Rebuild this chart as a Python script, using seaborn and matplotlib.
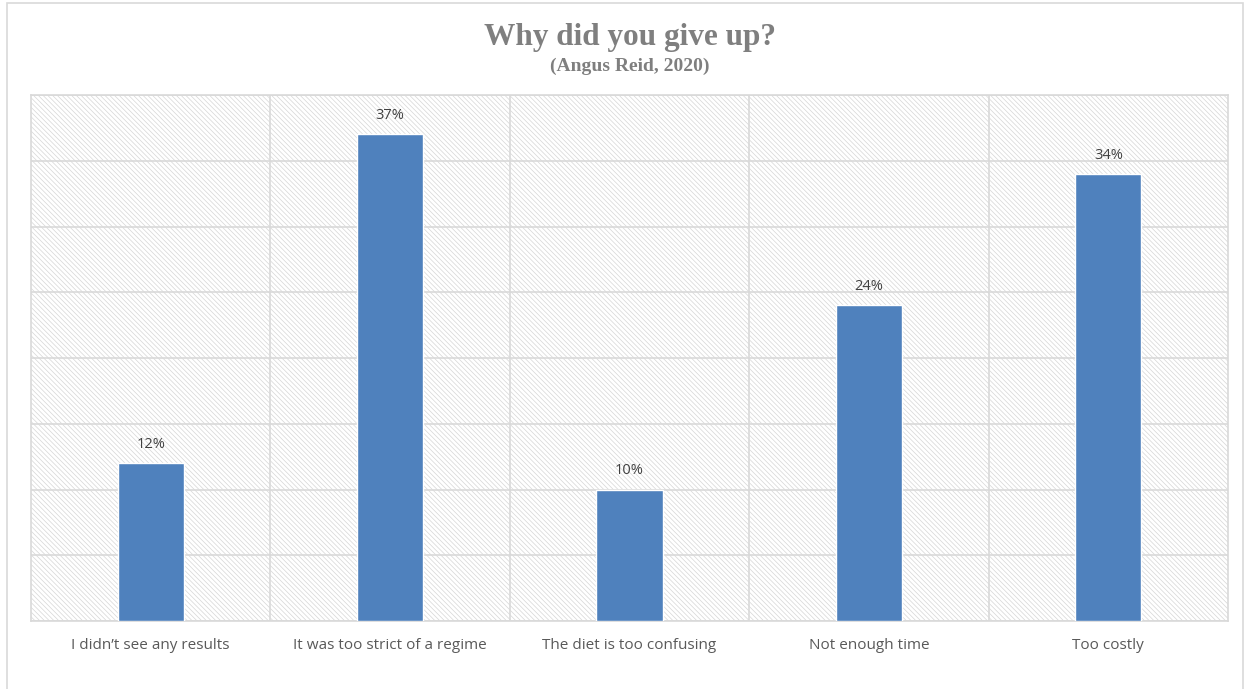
import matplotlib
matplotlib.use("Agg")
import matplotlib.pyplot as plt
import seaborn as sns
import pandas as pd
from matplotlib.patches import Rectangle

categories = ["I didn\u2019t see any results", "It was too strict of a regime",
              "The diet is too confusing", "Not enough time", "Too costly"]
values = [12, 37, 10, 24, 34]
labels = ["12%", "37%", "10%", "24%", "34%"]

sns.set_theme(style="white")
plt.rcParams['font.family'] = ['Open Sans', 'DejaVu Sans']

W, H = 1249, 689
fig = plt.figure(figsize=(W / 100, H / 100), dpi=100)
fig.patches.append(Rectangle((7 / W, -0.05), (1243 - 7) / W, (H - 3) / H + 0.05, transform=fig.transFigure,
                             fill=False, edgecolor="#D9D9D9", linewidth=1.2))

ax = fig.add_axes([31 / W, 1 - 621 / H, (1228 - 31) / W, (621 - 95) / H])
ax.set_facecolor("white")
# hatched background
plt.rcParams['hatch.color'] = '#D6D6D6'
plt.rcParams['hatch.linewidth'] = 0.5
ax.add_patch(Rectangle((0, 0), 1, 1, transform=ax.transAxes, facecolor="white",
                       edgecolor="#D6D6D6", hatch="\\" * 7, linewidth=0, zorder=0))

df = pd.DataFrame({"cat": categories, "val": values})
sns.barplot(data=df, x="cat", y="val", color="#4F81BD", saturation=1, width=0.276, ax=ax, zorder=3)

ax.set_ylim(0, 40)
ax.set_xlim(-0.5, 4.5)
ax.set_yticks(range(0, 41, 5))
ax.set_yticklabels([])
ax.tick_params(axis="y", length=0)
ax.grid(axis="y", color="#D9D9D9", linewidth=1.2, zorder=1)
for xv in [0.5, 1.5, 2.5, 3.5]:
    ax.axvline(xv, color="#D9D9D9", linewidth=1.2, zorder=1)
ax.set_axisbelow(True)
for s in ax.spines.values():
    s.set_color("#D9D9D9")
    s.set_linewidth(1.2)
ax.set_xlabel("")
ax.set_ylabel("")
ax.tick_params(axis="x", length=0, pad=12, labelsize=11, labelcolor="#595959")

for i, (v, lab) in enumerate(zip(values, labels)):
    ax.annotate(lab, (i, v), xytext=(0, 8), textcoords="offset points", ha="center", va="bottom",
                fontsize=10.5, color="#404040")

fig.text(630 / W, 1 - 37 / H, "Why did you give up?", ha="center", va="center",
         fontsize=22.5, fontweight="bold", color="#7F7F7F", family=["Liberation Serif", "DejaVu Serif"])
fig.text(630 / W, 1 - 66 / H, "(Angus Reid, 2020)", ha="center", va="center",
         fontsize=14, fontweight="bold", color="#7F7F7F", family=["Liberation Serif", "DejaVu Serif"])

fig.savefig("out.png", dpi=100)
